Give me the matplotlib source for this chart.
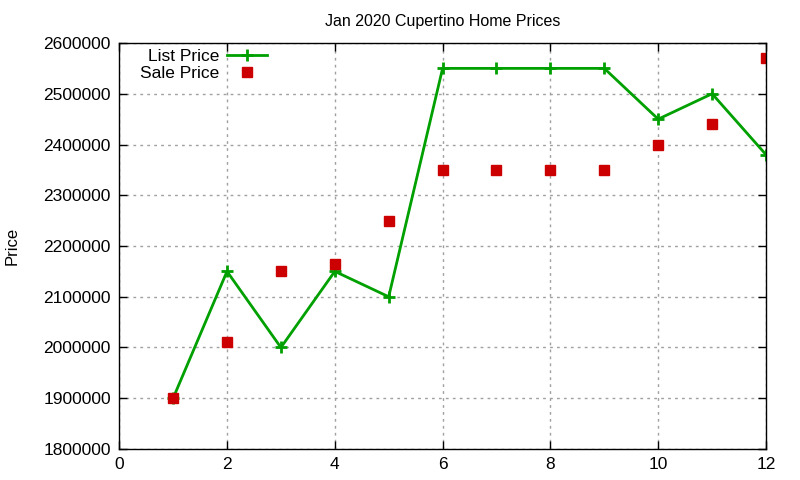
import matplotlib
matplotlib.use("Agg")
import matplotlib.pyplot as plt

# data
months = [1, 2, 3, 4, 5, 6, 7, 8, 9, 10, 11, 12]
list_price = [1900000, 2150000, 2000000, 2150000, 2100000, 2550000,
              2550000, 2550000, 2550000, 2450000, 2500000, 2380000]
sale_price = [1900000, 2010000, 2150000, 2165000, 2250000, 2350000,
              2350000, 2350000, 2350000, 2400000, 2440000, 2570000]
x_ticks = [0, 2, 4, 6, 8, 10, 12]
y_ticks = [1800000, 1900000, 2000000, 2100000, 2200000, 2300000,
           2400000, 2500000, 2600000]

plt.rcParams["font.family"] = ["Liberation Sans", "DejaVu Sans"]

fig = plt.figure(figsize=(8, 4.8), dpi=100)
ax = fig.add_axes([0.149, 0.0646, 0.8085, 0.8458])

ax.plot(months, list_price, color="#00a000", lw=2, marker="+",
        markersize=9, markeredgewidth=2, label="List Price")
ax.plot(months, sale_price, ls="none", color="#cc0000", marker="s",
        markersize=7, label="Sale Price")

ax.set_xlim(0, 12)
ax.set_ylim(1800000, 2600000)
ax.set_xticks(x_ticks)
ax.set_yticks(y_ticks)
ax.set_yticklabels([str(v) for v in y_ticks])
ax.tick_params(direction="in", top=True, right=True, labelsize=12.5,
               length=6, width=1, pad=6)
ax.grid(True, color="#a0a0a0", ls=(0, (2, 3)), lw=1)
ax.set_axisbelow(True)
for s in ax.spines.values():
    s.set_linewidth(1)

ax.set_title("Jan 2020 Cupertino Home Prices", fontsize=11.5, pad=12)
ax.set_ylabel("Price", fontsize=12)
ax.yaxis.set_label_coords(-0.154, 0.5)

ax.legend(loc="upper left", bbox_to_anchor=(0.027, 0.994), frameon=False,
          markerfirst=False, fontsize=12.5, handlelength=2.3,
          borderaxespad=0.0, labelspacing=0.12, handletextpad=0.45,
          borderpad=0.2)

fig.savefig("out.png", dpi=100)
